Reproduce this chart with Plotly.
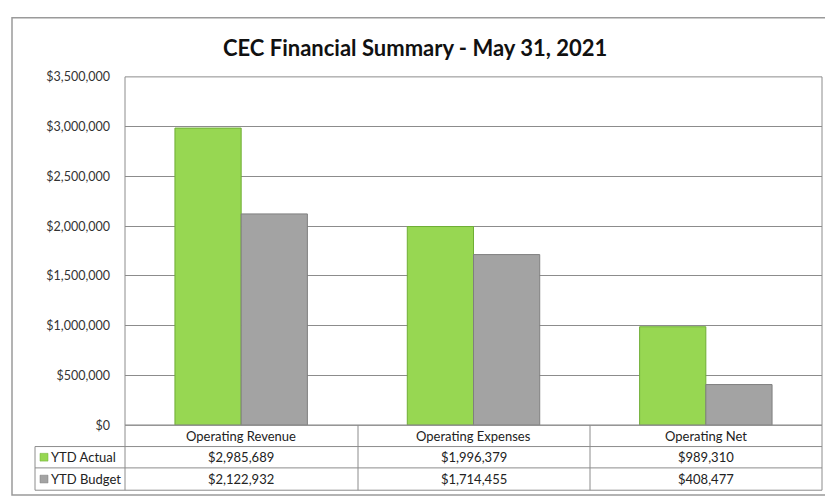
import plotly.graph_objects as go

categories = ["Operating Revenue", "Operating Expenses", "Operating Net"]
ytd_actual = [2985689, 1996379, 989310]
ytd_budget = [2122932, 1714455, 408477]
series_names = ["YTD Actual", "YTD Budget"]
title = "CEC Financial Summary - May 31, 2021"

W, H = 825, 504
FONT = "Lato"
GREEN = "#97d752"
GREEN_LINE = "#6fae35"
GREY = "#a3a3a3"
GREY_LINE = "#7f7f7f"
LINE = "#8c8c8c"

def px(x):
    return x / W

def py(y):
    return 1 - y / H

x_left, x_right = 125, 822
y_top, y_bot = 71, 430
rows = [430, 452, 474, 497]

fig = go.Figure()
fig.add_trace(go.Bar(x=categories, y=ytd_actual, name=series_names[0],
                     marker=dict(color=GREEN, line=dict(color=GREEN_LINE, width=1))))
fig.add_trace(go.Bar(x=categories, y=ytd_budget, name=series_names[1],
                     marker=dict(color=GREY, line=dict(color=GREY_LINE, width=1))))

shapes = []
# outer border
shapes.append(dict(type="rect", xref="paper", yref="paper",
                   x0=px(12), x1=px(830), y0=py(502), y1=py(10),
                   line=dict(color="#9a9a9a", width=1.5)))
# plot area border
shapes.append(dict(type="rect", xref="paper", yref="paper",
                   x0=px(x_left), x1=px(x_right), y0=py(y_bot), y1=py(y_top),
                   line=dict(color=LINE, width=1)))
# table horizontal lines
for i, r in enumerate(rows):
    x0 = x_left if i == 0 else 35
    shapes.append(dict(type="line", xref="paper", yref="paper",
                       x0=px(x0), x1=px(x_right), y0=py(r), y1=py(r),
                       line=dict(color=LINE, width=1)))
# table vertical lines
shapes.append(dict(type="line", xref="paper", yref="paper",
                   x0=px(35), x1=px(35), y0=py(rows[1]), y1=py(rows[3]),
                   line=dict(color=LINE, width=1)))
for xb in [x_left, 358, 590, x_right]:
    shapes.append(dict(type="line", xref="paper", yref="paper",
                       x0=px(xb), x1=px(xb), y0=py(rows[0]), y1=py(rows[3]),
                       line=dict(color=LINE, width=1)))
# legend keys
for r_i, col, lc in [(1, GREEN, GREEN_LINE), (2, GREY, GREY_LINE)]:
    cy = (rows[r_i] + rows[r_i + 1]) / 2
    shapes.append(dict(type="rect", xref="paper", yref="paper",
                       x0=px(40), x1=px(48), y0=py(cy + 4), y1=py(cy - 4),
                       fillcolor=col, line=dict(color=lc, width=0.5)))

annotations = [dict(text=f"<b>{title}</b>", xref="paper", yref="paper",
                    x=px(415), y=py(41), yanchor="middle", showarrow=False,
                    font=dict(family=FONT, size=22, color="#111111"))]

tfont = dict(family=FONT, size=13, color="#222222")
header_y = (rows[0] + rows[1]) / 2
for c in categories:
    annotations.append(dict(text=c, xref="x", yref="paper", x=c, y=py(header_y),
                            yanchor="middle", showarrow=False, font=tfont))
for r_i, (name, vals) in enumerate([(series_names[0], ytd_actual), (series_names[1], ytd_budget)]):
    cy = (rows[r_i + 1] + rows[r_i + 2]) / 2
    annotations.append(dict(text=name, xref="paper", yref="paper", x=px(49), y=py(cy),
                            xanchor="left", yanchor="middle", showarrow=False, font=tfont))
    for c, v in zip(categories, vals):
        annotations.append(dict(text=f"${v:,.0f}", xref="x", yref="paper", x=c, y=py(cy),
                                yanchor="middle", showarrow=False, font=tfont))

fig.update_layout(
    width=W, height=H,
    margin=dict(l=0, r=0, t=0, b=0),
    paper_bgcolor="white", plot_bgcolor="white",
    showlegend=False,
    barmode="group", bargap=0.43, bargroupgap=0,
    font=dict(family=FONT),
    shapes=shapes, annotations=annotations,
    xaxis=dict(domain=[px(x_left), px(x_right)], showticklabels=False,
               showgrid=False, zeroline=False, showline=False),
    yaxis=dict(domain=[py(y_bot), py(y_top)], range=[0, 3500000], dtick=500000,
               tickformat="$,.0f", showgrid=True, gridcolor=LINE, gridwidth=1,
               zeroline=False, showline=False, ticklabelstandoff=14,
               tickfont=dict(family=FONT, size=12.5, color="#333333")),
)

fig.write_html("out.html",
               config={"displayModeBar": False},
               post_script="document.body.style.margin='0';document.body.style.overflow='hidden';")
